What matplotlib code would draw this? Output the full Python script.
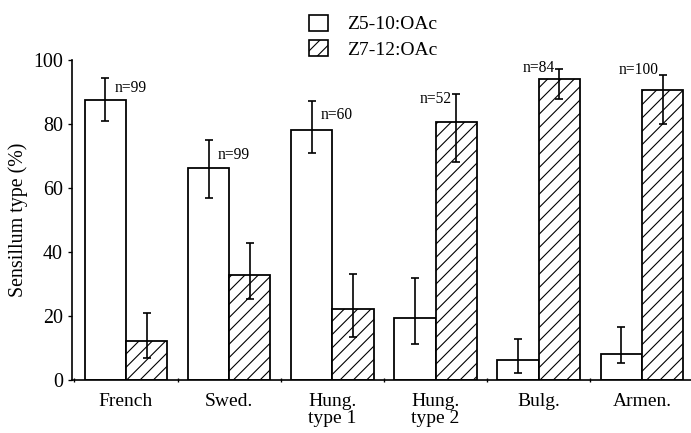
import numpy as np
import matplotlib.pyplot as plt
from matplotlib.patches import Patch

plt.rcParams['font.family'] = ['Liberation Serif', 'DejaVu Serif']
plt.rcParams['hatch.linewidth'] = 1.0

groups = ['French', 'Swed.', 'Hung.\ntype 1', 'Hung.\ntype 2', 'Bulg.', 'Armen.']
z5_mean = [87.5, 66.4, 78.1, 19.5, 6.2, 8.1]
z5_hi = [94.5, 75.0, 87.2, 32.0, 12.8, 16.7]
z5_lo = [81.0, 57.0, 71.0, 11.2, 2.3, 5.2]
z7_mean = [12.2, 32.8, 22.2, 80.7, 94.0, 90.6]
z7_hi = [20.8, 42.8, 33.1, 89.3, 97.1, 95.3]
z7_lo = [7.0, 25.3, 13.3, 68.2, 87.8, 80.0]
n_labels = ['n=99', 'n=99', 'n=60', 'n=52', 'n=84', 'n=100']
n_y = [91.3, 70.3, 82.8, 87.8, 97.5, 96.9]

x = np.arange(len(groups))
w = 0.4

fig = plt.figure(figsize=(691 / 80, 433 / 80), dpi=80)
ax = fig.add_axes([72 / 691, 53 / 433, 619 / 691, 320 / 433])

z5_err = [np.array(z5_mean) - np.array(z5_lo), np.array(z5_hi) - np.array(z5_mean)]
z7_err = [np.array(z7_mean) - np.array(z7_lo), np.array(z7_hi) - np.array(z7_mean)]

ax.bar(x - w / 2, z5_mean, w, color='white', edgecolor='black', linewidth=1.6,
       yerr=z5_err, error_kw=dict(ecolor='black', elinewidth=1.5, capsize=3.6, capthick=1.5))
ax.bar(x + w / 2, z7_mean, w, color='white', edgecolor='black', linewidth=1.6, hatch='//',
       yerr=z7_err, error_kw=dict(ecolor='black', elinewidth=1.5, capsize=3.6, capthick=1.5))

# n labels: first three right of the white bar's error bar, last three left of hatched one
for i in range(len(groups)):
    if i < 3:
        ax.text(x[i] - w / 2 + 0.09, n_y[i], n_labels[i], fontsize=14, ha='left', va='center')
    else:
        ax.text(x[i] + w / 2 - 0.04, n_y[i], n_labels[i], fontsize=14, ha='right', va='center')

ax.set_xlim(-0.523, 5.475)
ax.set_ylim(0, 100)
ax.set_yticks([0, 20, 40, 60, 80, 100])
ax.set_xticks(x)
ax.set_xticklabels(groups, fontsize=17.5, linespacing=1.0)
ax.set_xticks(np.arange(-0.5, 5.0, 1.0), minor=True)
ax.tick_params(axis='x', which='major', length=0, pad=12)
ax.tick_params(axis='x', which='minor', length=4, width=1.2, direction='inout')
ax.tick_params(axis='y', labelsize=18, length=4, width=1.2, direction='out', pad=4)
ax.set_ylabel('Sensillum type (%)', fontsize=18, labelpad=5)

for s in ['top', 'right']:
    ax.spines[s].set_visible(False)
ax.spines['left'].set_linewidth(1.5)
ax.spines['bottom'].set_linewidth(1.5)

handles = [Patch(facecolor='white', edgecolor='black', linewidth=1.5),
           Patch(facecolor='white', edgecolor='black', linewidth=1.5, hatch='//')]
fig.legend(handles, ['Z5-10:OAc', 'Z7-12:OAc'], loc='upper left',
           bbox_to_anchor=(291 / 691, 1 + 3 / 433), frameon=False, fontsize=17.5,
           handlelength=1.0, handleheight=0.9, handletextpad=1.0, labelspacing=0.35)

fig.savefig('out.png', dpi=80)
